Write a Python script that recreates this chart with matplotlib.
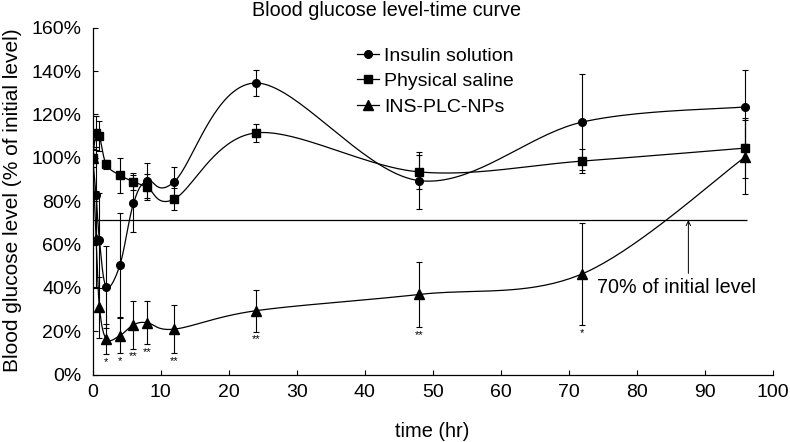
import numpy as np
import matplotlib
matplotlib.use("Agg")
import matplotlib.pyplot as plt
from matplotlib.lines import Line2D

plt.rcParams['font.family'] = ['Liberation Sans', 'DejaVu Sans']

# ---- data ----
time_hr = [0, 0.5, 1, 2, 4, 6, 8, 12, 24, 48, 72, 96]
insulin = [100, 83, 62, 40.5, 50.5, 79, 89.5, 89, 134.5, 89.5, 116.5, 123.5]
insulin_err = [0, 22, 22, 19, 24, 13, 8, 7, 6, 13, 22, 17]
saline = [100, 111.5, 110, 97, 92, 89, 86.5, 81, 111.5, 93.5, 98.5, 104.5]
saline_err = [4, 8, 7, 2, 8, 4, 6, 5, 4, 8, 5.5, 14]
nps = [100, 62.5, 31, 16.5, 18, 23, 24, 21, 29.5, 37, 46.5, 100.5]
nps_err = [0, 22, 14, 7, 8, 11, 10, 11, 9.6, 15, 23.5, 17]
stars = ['', '', '', '*', '*', '**', '**', '**', '**', '**', '*', '']
series_names = ['Insulin solution', 'Physical saline', 'INS-PLC-NPs']
ref_level = 71.3
ref_label = '70% of initial level'

fig = plt.figure(figsize=(7.9, 4.42), dpi=100)
ax = fig.add_axes([0.1173, 0.1523, 0.8608, 0.785])
ax.set_xlim(0, 100)
ax.set_ylim(0, 160)


def excel_smooth(ax, x, y, n=40):
    P = ax.transData.transform(np.column_stack([x, y]))
    segs = []
    for i in range(len(P) - 1):
        p0 = P[i - 1] if i > 0 else P[i]
        p1 = P[i]
        p2 = P[i + 1]
        p3 = P[i + 2] if i + 2 < len(P) else P[i + 1]
        c1 = p1 + (p2 - p0) / 6.0
        c2 = p2 - (p3 - p1) / 6.0
        t = np.linspace(0, 1, n)[:, None]
        B = (1 - t) ** 3 * p1 + 3 * (1 - t) ** 2 * t * c1 + 3 * (1 - t) * t ** 2 * c2 + t ** 3 * p2
        segs.append(B if i == 0 else B[1:])
    D = np.vstack(segs)
    return ax.transData.inverted().transform(D)


markers = ['o', 's', '^']
msizes = [5.5, 5.8, 6.5]
ys = [insulin, saline, nps]
errs = [insulin_err, saline_err, nps_err]

for y, e, m, ms in zip(ys, errs, markers, msizes):
    ax.errorbar(time_hr, y, yerr=e, fmt='none', ecolor='black', elinewidth=0.8,
                capsize=2, capthick=0.8, zorder=2)
    sm = excel_smooth(ax, time_hr, y)
    ax.plot(sm[:, 0], sm[:, 1], color='black', lw=0.9, zorder=3)
    ax.plot(time_hr, y, ls='none', marker=m, ms=ms, color='black', zorder=4)

# reference line
ax.hlines(ref_level, 0, 96.2, color='black', lw=0.9, zorder=2)
ax.annotate('', xy=(87.6, ref_level), xytext=(87.6, 46.7),
            arrowprops=dict(arrowstyle='->', lw=0.7, color='black',
                            shrinkA=0, shrinkB=0, mutation_scale=8))
ax.text(85.9, 40.0, ref_label, ha='center', va='center', fontsize=14.2)

# significance stars
for xi, yi, ei, s in zip(time_hr, nps, nps_err, stars):
    if s:
        ax.annotate(s, (xi, yi - ei), xytext=(0, -2), textcoords='offset points',
                    ha='center', va='top', fontsize=8)

# legend
handles = [Line2D([0], [0], color='black', lw=0.9, marker=m, ms=ms)
           for m, ms in zip(markers, msizes)]
ax.legend(handles, series_names, loc='upper left', bbox_to_anchor=(0.389, 0.944),
          frameon=False, fontsize=14, borderpad=0, borderaxespad=0,
          handlelength=1.13, handletextpad=0.25, labelspacing=0.4)

# axes styling
for s in ['top', 'right']:
    ax.spines[s].set_visible(False)
for s in ['left', 'bottom']:
    ax.spines[s].set_linewidth(0.9)
ax.set_xticks(np.arange(0, 101, 10))
ax.set_yticks(np.arange(0, 161, 20))
ax.set_yticklabels([f'{v}%' for v in range(0, 161, 20)])
ax.tick_params(direction='in', length=3.5, width=0.8, labelsize=14)
ax.tick_params(axis='y', pad=8)
ax.tick_params(axis='x', pad=7)

ax.set_xlabel('time (hr)', fontsize=14.4, labelpad=15)
ax.set_ylabel('Blood glucose level (% of initial level)', fontsize=15)
ax.yaxis.set_label_coords(-0.104, 0.502)
fig.text(386 / 790, 1 - 10 / 442, 'Blood glucose level-time curve',
         ha='center', va='center', fontsize=14.2)

fig.savefig('out.png', dpi=100)
